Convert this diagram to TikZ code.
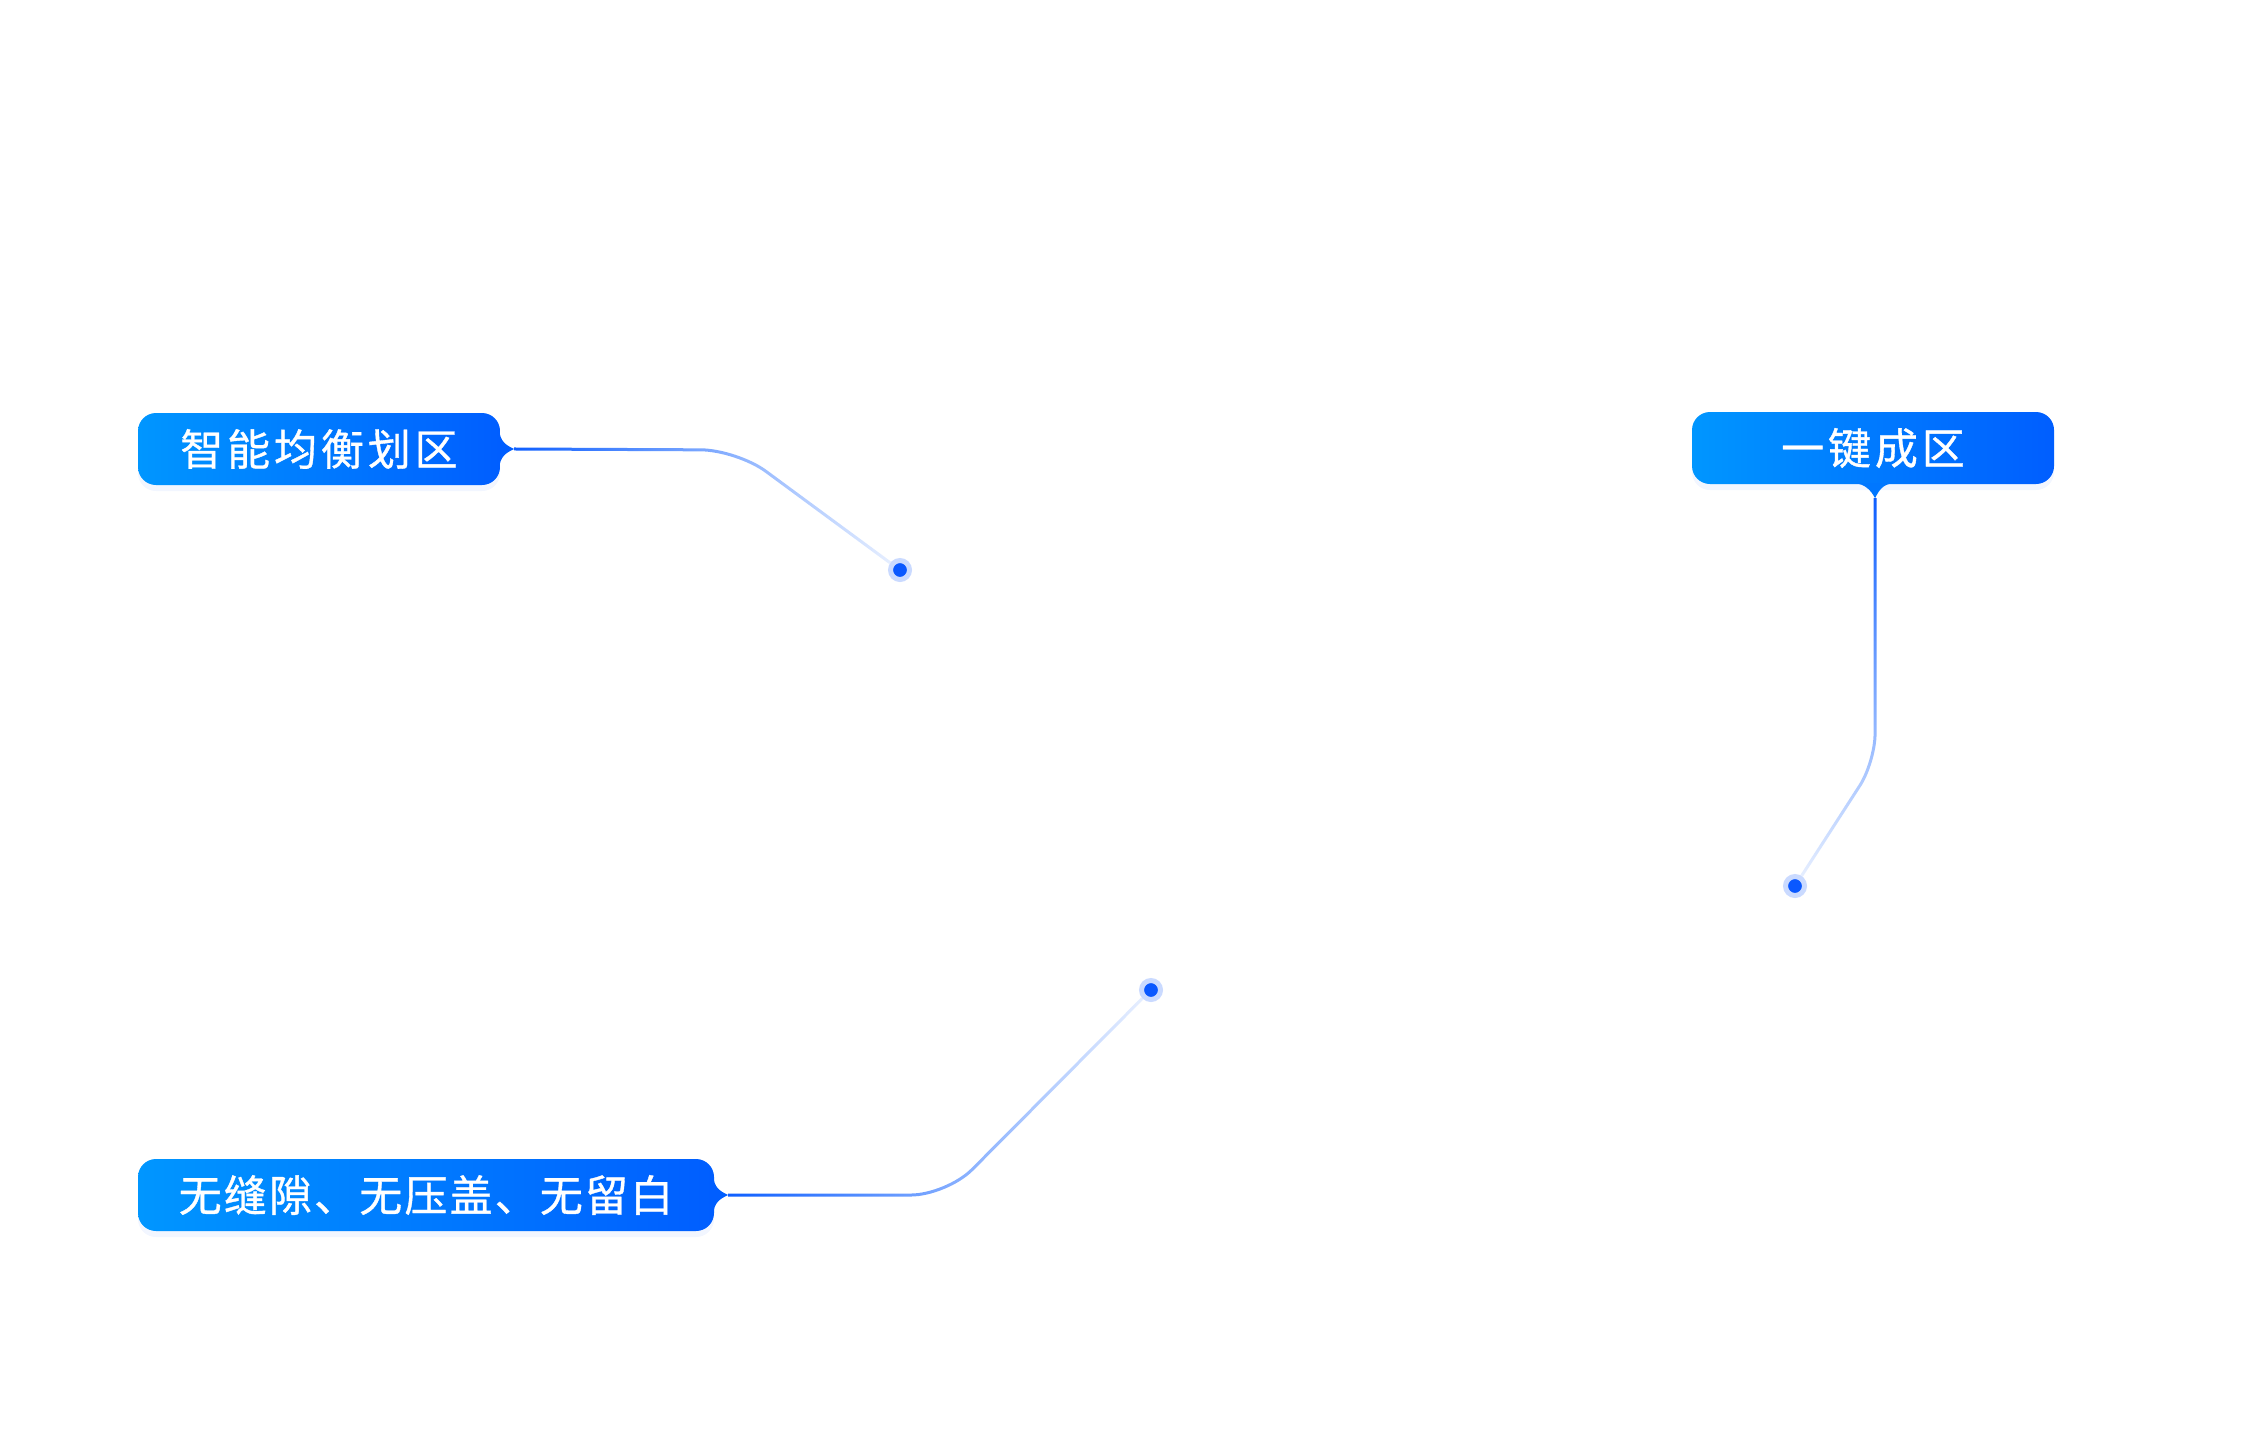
\documentclass[tikz,border=0pt]{standalone}
\usepackage{fontspec}
\newfontfamily\cjk{Noto Sans CJK SC}
\usetikzlibrary{fadings,shadows,calc}
\definecolor{bL}{HTML}{0096FF}
\definecolor{bR}{HTML}{005EFF}
\definecolor{lineC}{HTML}{0D5EFF}
\definecolor{dotC}{HTML}{0A58FF}
\definecolor{haloC}{HTML}{CADAFF}
\definecolor{shC}{HTML}{B5CBFF}
\tikzfading[name=fadeE, left color=transparent!0, right color=transparent!90]
\tikzfading[name=fadeS, top color=transparent!0, bottom color=transparent!90]
\tikzset{
  labelbox/.style={rounded corners=18pt, left color=bL, right color=bR, text=white,
    inner sep=0pt, minimum height=72pt,
    drop shadow={shadow xshift=0pt, shadow yshift=-6pt, fill=shC, opacity=0.18},
    font=\cjk\fontsize{43pt}{48pt}\selectfont},
  conn/.style={draw=lineC, line width=3pt, rounded corners=36pt},
  dotn/.style={circle, fill=dotC, draw=haloC, line width=5pt, minimum size=19pt, inner sep=0pt},
}
\begin{document}
\begin{tikzpicture}[x=1pt,y=-1pt]
\useasboundingbox (0,0) rectangle (2250,1440);

% labels
\node[labelbox, minimum width=362pt] (lab1) at (319,449)
  {\addfontfeature{LetterSpace=9,FakeBold=0.8}智能均衡划区};
\node[labelbox, minimum width=362pt] (lab2) at (1873,448)
  {\addfontfeature{LetterSpace=9,FakeBold=0.8}一键成区};
\node[labelbox, minimum width=576pt] (lab3) at (426,1195)
  {\addfontfeature{LetterSpace=5,FakeBold=0.8}无缝隙、无压盖、无留白};

% notches
\fill[bR] ($(lab1.east)+(-1,-19)$) .. controls +(1,11) and +(-9,-4) ..
  ($(lab1.east)+(14,0)$) coordinate (tip1) .. controls +(-9,4) and +(1,-11) ..
  ($(lab1.east)+(-1,19)$) -- cycle;
\fill[bL!45!bR] ($(lab2.south)+(-18,-1)$) .. controls +(10,1) and +(-4,-8) ..
  ($(lab2.south)+(2,14)$) coordinate (tip2) .. controls +(4,-8) and +(-10,1) ..
  ($(lab2.south)+(20,-1)$) -- cycle;
\fill[bR] ($(lab3.east)+(-1,-19)$) .. controls +(1,11) and +(-9,-4) ..
  ($(lab3.east)+(14,0)$) coordinate (tip3) .. controls +(-9,4) and +(1,-11) ..
  ($(lab3.east)+(-1,19)$) -- cycle;

% dots
\node[dotn] (dot1) at (900,570) {};
\node[dotn] (dot2) at (1795,886) {};
\node[dotn] (dot3) at (1151,990) {};

% bends
\coordinate (k1) at (737,450);
\coordinate (k2) at (1875,762);
\coordinate (k3) at (947,1195);

% connectors
\draw[conn, path fading=fadeE] (tip1) -- (k1) -- (dot1);
\draw[conn, rounded corners=28pt, path fading=fadeS] (tip2) -- (k2) -- (dot2);
\draw[conn, path fading=fadeE] (tip3) -- (k3) -- (dot3);
\end{tikzpicture}
\end{document}
